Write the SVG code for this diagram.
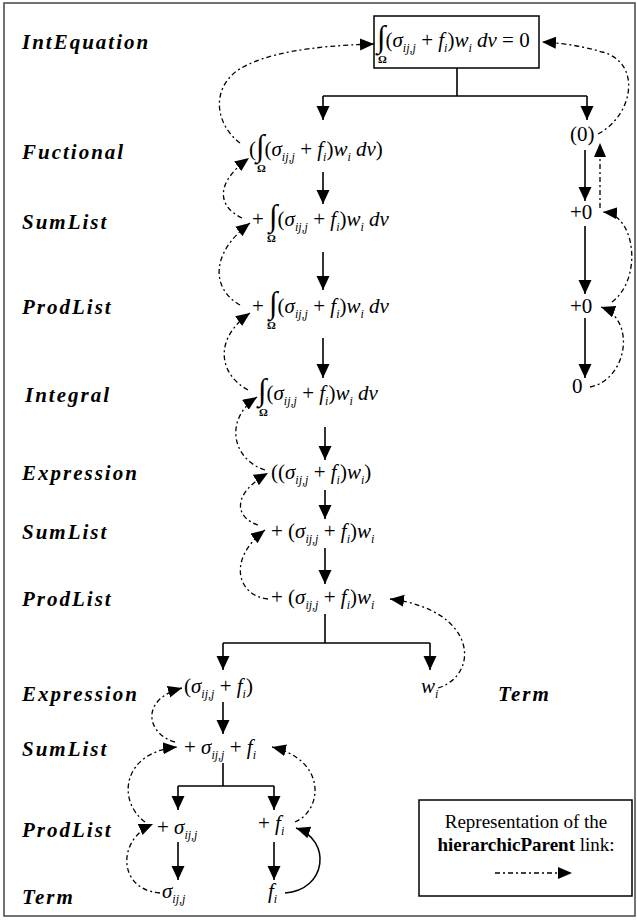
<svg xmlns="http://www.w3.org/2000/svg" width="637" height="920" viewBox="0 0 637 920" xml:space="preserve">
<style>
.lbl{font-family:"Liberation Serif",serif;font-size:21px;font-style:italic;font-weight:bold;letter-spacing:2px;fill:#000}
.m{font-family:"Liberation Serif",serif;font-size:21px;fill:#000}
.i{font-style:italic}
.s{font-size:12px;font-style:italic}
.int{font-size:31px}
.om{font-family:"Liberation Serif",serif;font-size:11px;font-weight:bold;fill:#000}
.tree{fill:none;stroke:#000;stroke-width:1.6}
.tree-a{fill:none;stroke:#000;stroke-width:1.6;marker-end:url(#ah)}
.hp{fill:none;stroke:#000;stroke-width:1.3;stroke-dasharray:5 3 2 3;marker-end:url(#dh)}
.hps{fill:none;stroke:#000;stroke-width:1.5;marker-end:url(#dh)}
.leg{font-family:"Liberation Serif",serif;font-size:19px;fill:#000}
</style>
<defs>
<marker id="ah" markerUnits="userSpaceOnUse" markerWidth="15" markerHeight="14" refX="14" refY="6.5" orient="auto"><path d="M0,0 L14,6.5 L0,13 z" fill="#000"/></marker>
<marker id="dh" markerUnits="userSpaceOnUse" markerWidth="15" markerHeight="13" refX="14" refY="6" orient="auto"><path d="M0,0 L14,6 L0,12 z" fill="#000"/></marker>
</defs>
<rect x="4" y="3" width="631" height="913" fill="#fff" stroke="#444" stroke-width="1.5"/>
<g id="levels">
<text class="lbl" x="22" y="49">IntEquation</text>
<text class="lbl" x="22" y="159">Fuctional</text>
<text class="lbl" x="22" y="229">SumList</text>
<text class="lbl" x="22" y="314">ProdList</text>
<text class="lbl" x="25" y="402">Integral</text>
<text class="lbl" x="22" y="480">Expression</text>
<text class="lbl" x="22" y="539">SumList</text>
<text class="lbl" x="22" y="606">ProdList</text>
<text class="lbl" x="22" y="701">Expression</text>
<text class="lbl" x="22" y="756">SumList</text>
<text class="lbl" x="22" y="837">ProdList</text>
<text class="lbl" x="22" y="904">Term</text>
<text class="lbl" x="498" y="701">Term</text>
</g>
<g id="connectors">
<path class="tree" d="M457,68 V96 M323,96 H587"/>
<path class="tree-a" d="M323,96 V120"/>
<path class="tree-a" d="M587,96 V120"/>
<path class="tree-a" d="M323,172 V204"/>
<path class="tree-a" d="M323,252 V290"/>
<path class="tree-a" d="M323,338 V378"/>
<path class="tree-a" d="M325,427 V460"/>
<path class="tree-a" d="M325,490 V519"/>
<path class="tree-a" d="M325,548 V584"/>
<path class="tree" d="M325,614 V643 M223,643 H430"/>
<path class="tree-a" d="M223,643 V670"/>
<path class="tree-a" d="M430,643 V670"/>
<path class="tree-a" d="M223,702 V734"/>
<path class="tree" d="M223,763 V786 M178,786 H274"/>
<path class="tree-a" d="M178,786 V810"/>
<path class="tree-a" d="M274,786 V810"/>
<path class="tree-a" d="M178,842 V880"/>
<path class="tree-a" d="M274,842 V880"/>
<path class="tree-a" d="M585,150 V201"/>
<path class="tree-a" d="M585,226 V294"/>
<path class="tree-a" d="M585,318 V378"/>
<path class="hp" d="M240,143 C216,125 210,90 238,70 C265,53 310,46 374,44"/>
<path class="hp" d="M242,218 C220,208 212,185 249,158"/>
<path class="hp" d="M240,305 C213,290 208,255 250,223"/>
<path class="hp" d="M248,390 C220,375 212,340 250,313"/>
<path class="hp" d="M265,470 C233,460 223,420 257,397"/>
<path class="hp" d="M258,525 C236,518 230,495 268,473"/>
<path class="hp" d="M268,599 C238,596 226,560 265,530"/>
<path class="hp" d="M438,688 C480,675 478,610 390,599"/>
<path class="hp" d="M175,742 C148,735 138,700 182,688"/>
<path class="hp" d="M145,822 C116,800 123,752 177,747"/>
<path class="hp" d="M160,893 C118,890 116,840 153,824"/>
<path class="hp" d="M295,822 C323,810 327,760 272,747"/>
<path class="hps" d="M285,893 C327,890 332,840 296,828"/>
<path class="hp" d="M598,134 C634,115 642,62 602,52 C582,46 562,43 542,42"/>
<path class="hp" d="M600,208 L600,143"/>
<path class="hp" d="M612,302 C642,280 637,215 603,212"/>
<path class="hp" d="M590,387 C627,380 637,320 601,307"/>
</g>
<g id="n-inteq">
<rect x="374" y="16" width="165" height="52" fill="#fff" stroke="#000" stroke-width="1.5"/>
<text class="m" x="377" y="47"><tspan class="int">∫</tspan>(<tspan class="i">σ</tspan><tspan class="s" dy="5">ij,j</tspan><tspan dy="-5"> + </tspan><tspan class="i">f</tspan><tspan class="s" dy="5">i</tspan><tspan dy="-5">)</tspan><tspan class="i">w</tspan><tspan class="s" dy="5">i</tspan><tspan dy="-5" class="i"> dv</tspan> = 0</text>
<text class="om" x="378" y="63">Ω</text>
</g>
<g id="n-functional">
<text class="m" x="249" y="156">(<tspan class="int">∫</tspan>(<tspan class="i">σ</tspan><tspan class="s" dy="5">ij,j</tspan><tspan dy="-5"> + </tspan><tspan class="i">f</tspan><tspan class="s" dy="5">i</tspan><tspan dy="-5">)</tspan><tspan class="i">w</tspan><tspan class="s" dy="5">i</tspan><tspan dy="-5" class="i"> dv</tspan>)</text>
<text class="om" x="257" y="172">Ω</text>
</g>
<g id="n-sumlist1">
<text class="m" x="252" y="226">+ <tspan class="int">∫</tspan>(<tspan class="i">σ</tspan><tspan class="s" dy="5">ij,j</tspan><tspan dy="-5"> + </tspan><tspan class="i">f</tspan><tspan class="s" dy="5">i</tspan><tspan dy="-5">)</tspan><tspan class="i">w</tspan><tspan class="s" dy="5">i</tspan><tspan dy="-5" class="i"> dv</tspan></text>
<text class="om" x="267" y="242">Ω</text>
</g>
<g id="n-prodlist1">
<text class="m" x="252" y="313">+ <tspan class="int">∫</tspan>(<tspan class="i">σ</tspan><tspan class="s" dy="5">ij,j</tspan><tspan dy="-5"> + </tspan><tspan class="i">f</tspan><tspan class="s" dy="5">i</tspan><tspan dy="-5">)</tspan><tspan class="i">w</tspan><tspan class="s" dy="5">i</tspan><tspan dy="-5" class="i"> dv</tspan></text>
<text class="om" x="267" y="329">Ω</text>
</g>
<g id="n-integral">
<text class="m" x="258" y="400"><tspan class="int">∫</tspan>(<tspan class="i">σ</tspan><tspan class="s" dy="5">ij,j</tspan><tspan dy="-5"> + </tspan><tspan class="i">f</tspan><tspan class="s" dy="5">i</tspan><tspan dy="-5">)</tspan><tspan class="i">w</tspan><tspan class="s" dy="5">i</tspan><tspan dy="-5" class="i"> dv</tspan></text>
<text class="om" x="259" y="416">Ω</text>
</g>
<g id="n-expression1">
<text class="m" x="271" y="479">((<tspan class="i">σ</tspan><tspan class="s" dy="5">ij,j</tspan><tspan dy="-5"> + </tspan><tspan class="i">f</tspan><tspan class="s" dy="5">i</tspan><tspan dy="-5">)</tspan><tspan class="i">w</tspan><tspan class="s" dy="5">i</tspan><tspan dy="-5">)</tspan></text>
</g>
<g id="n-sumlist2">
<text class="m" x="271" y="538">+ (<tspan class="i">σ</tspan><tspan class="s" dy="5">ij,j</tspan><tspan dy="-5"> + </tspan><tspan class="i">f</tspan><tspan class="s" dy="5">i</tspan><tspan dy="-5">)</tspan><tspan class="i">w</tspan><tspan class="s" dy="5">i</tspan></text>
</g>
<g id="n-prodlist2">
<text class="m" x="271" y="604">+ (<tspan class="i">σ</tspan><tspan class="s" dy="5">ij,j</tspan><tspan dy="-5"> + </tspan><tspan class="i">f</tspan><tspan class="s" dy="5">i</tspan><tspan dy="-5">)</tspan><tspan class="i">w</tspan><tspan class="s" dy="5">i</tspan></text>
</g>
<g id="n-expression2">
<text class="m" x="184" y="693">(<tspan class="i">σ</tspan><tspan class="s" dy="5">ij,j</tspan><tspan dy="-5"> + </tspan><tspan class="i">f</tspan><tspan class="s" dy="5">i</tspan><tspan dy="-5">)</tspan></text>
</g>
<g id="n-term-w">
<text class="m" x="421" y="693"><tspan class="i">w</tspan><tspan class="s" dy="5">i</tspan></text>
</g>
<g id="n-sumlist3">
<text class="m" x="184" y="754">+ <tspan class="i">σ</tspan><tspan class="s" dy="5">ij,j</tspan><tspan dy="-5"> + </tspan><tspan class="i">f</tspan><tspan class="s" dy="5">i</tspan></text>
</g>
<g id="n-prodlist-sigma">
<text class="m" x="157" y="834">+ <tspan class="i">σ</tspan><tspan class="s" dy="5">ij,j</tspan></text>
</g>
<g id="n-prodlist-f">
<text class="m" x="258" y="830">+ <tspan class="i">f</tspan><tspan class="s" dy="5">i</tspan></text>
</g>
<g id="n-term-sigma">
<text class="m" x="162" y="898"><tspan class="i">σ</tspan><tspan class="s" dy="5">ij,j</tspan></text>
</g>
<g id="n-term-f">
<text class="m" x="268" y="898"><tspan class="i">f</tspan><tspan class="s" dy="5">i</tspan></text>
</g>
<g id="n-zero-functional"><text class="m" x="570" y="141">(0)</text></g>
<g id="n-zero-sumlist"><text class="m" x="570" y="219">+0</text></g>
<g id="n-zero-prodlist"><text class="m" x="570" y="313">+0</text></g>
<g id="n-zero-term"><text class="m" x="572" y="393">0</text></g>
<g id="legend">
<rect x="419" y="800" width="213" height="96" fill="#fff" stroke="#000" stroke-width="1.5"/>
<text class="leg" x="526" y="828" text-anchor="middle">Representation of the</text>
<text class="leg" x="526" y="851" text-anchor="middle"><tspan font-weight="bold">hierarchicParent</tspan> link:</text>
<path class="hp" d="M495,873 L572,873"/>
</g>
</svg>
